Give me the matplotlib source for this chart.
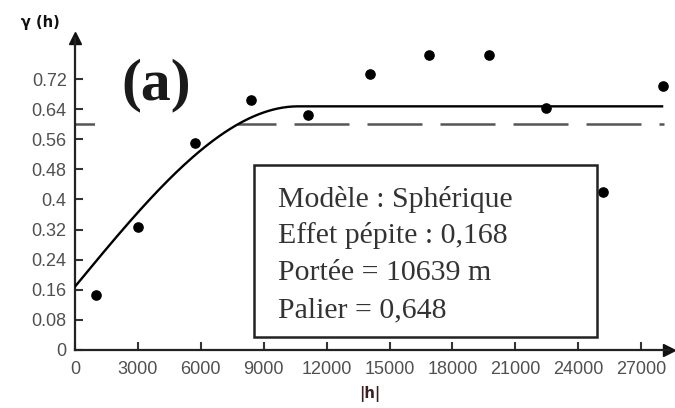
import numpy as np
import matplotlib
matplotlib.use("Agg")
import matplotlib.pyplot as plt
from matplotlib.patches import Rectangle

# experimental variogram points (lag in m, gamma)
lag = [1000, 3000, 5700, 8400, 11100, 14050, 16900, 19750, 22450, 25200, 28050]
gamma = [0.146, 0.326, 0.551, 0.665, 0.625, 0.734, 0.785, 0.785, 0.643, 0.421, 0.702]

# fitted spherical model
nugget = 0.168
sill = 0.648
rng = 10639
h_max = 28000
variance = 0.60

xticks = [0, 3000, 6000, 9000, 12000, 15000, 18000, 21000, 24000, 27000]
yticks = [0, 0.08, 0.16, 0.24, 0.32, 0.4, 0.48, 0.56, 0.64, 0.72]
ytick_labels = ["0", "0.08", "0.16", "0.24", "0.32", "0.4", "0.48", "0.56", "0.64", "0.72"]
box_lines = ["Modèle : Sphérique", "Effet pépite : 0,168", "Portée = 10639 m", "Palier = 0,648"]


def spherical(h):
    r = np.clip(h / rng, 0, 1)
    return nugget + (sill - nugget) * (1.5 * r - 0.5 * r ** 3)


fig = plt.figure(figsize=(6.75, 4.08), dpi=100)
ax = fig.add_axes([75 / 675, 58.3 / 408, 594 / 675, 311.7 / 408])

ax.set_xlim(0, 28330)
ax.set_ylim(0, 0.83)

# dashed variance line
ax.plot([0, 28100], [variance, variance], color="#555555", lw=1.8,
        dashes=(22, 7.2), zorder=1)

hh = np.linspace(0, h_max, 600)
ax.plot(hh, spherical(hh), color="black", lw=1.7, zorder=3)
ax.scatter(lag, gamma, s=44, color="black", zorder=4, clip_on=False)

# white area behind (a)
ax.add_patch(Rectangle((0.0337, 0.711), 0.2407, 0.2665, transform=ax.transAxes,
                       facecolor="white", edgecolor="none", zorder=2))
ax.text(0.1364, 0.849, "(a)", transform=ax.transAxes, ha="center", va="center",
        fontsize=43, fontweight="bold", family="Liberation Serif", color="#1a1a1a", zorder=2)

# info box
ax.add_patch(Rectangle((0.3013, 0.0407), 0.5775, 0.5519, transform=ax.transAxes,
                       facecolor="white", edgecolor="#222222", lw=1.8, zorder=5))
ys = [0.4578, 0.3423, 0.2236, 0.1049]
for txt, yy in zip(box_lines, ys):
    ax.text(0.3418, yy, txt, transform=ax.transAxes, ha="left", va="baseline",
            fontsize=21.5, family="Liberation Serif", color="#333333", zorder=6)

# axes styling
for s in ["top", "right"]:
    ax.spines[s].set_visible(False)
for s in ["left", "bottom"]:
    ax.spines[s].set_linewidth(1.6)
    ax.spines[s].set_color("#222222")

ax.plot(1, 0, ">", color="#111111", ms=9, transform=ax.get_yaxis_transform(), clip_on=False)
ax.plot(0, 1, "^", color="#111111", ms=9, transform=ax.get_xaxis_transform(), clip_on=False)

ax.set_xticks(xticks)
ax.set_xticklabels([str(v) for v in xticks])
ax.set_yticks(yticks)
ax.set_yticklabels(ytick_labels)
ax.tick_params(direction="in", length=6, width=1.5, color="#333333",
               labelsize=13, labelcolor="#505050")
ax.tick_params(axis="x", pad=8)
ax.tick_params(axis="y", pad=6)
for lab in ax.get_xticklabels() + ax.get_yticklabels():
    lab.set_family("Liberation Sans")

fig.text(40 / 675, 1 - 22 / 408, "γ (h)", ha="center", va="center", fontsize=10.5,
         fontweight="bold", color="#111111")
fig.text(370 / 675, 1 - 394 / 408, "|h|", ha="center", va="center", fontsize=10.5,
         fontweight="bold", color="#3b1f1f")

fig.savefig("out.png", dpi=100)
